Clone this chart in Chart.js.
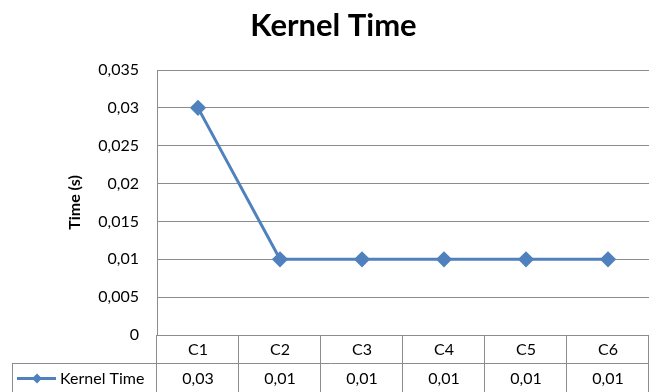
<!DOCTYPE html>
<html>
<head>
<meta charset="utf-8">
<script src="https://cdn.jsdelivr.net/npm/chart.js@4"></script>
<style>
  html, body { margin: 0; padding: 0; background: #fff; overflow: hidden; }
  #wrap { position: relative; width: 650px; height: 392px; }
</style>
</head>
<body>
<div id="wrap"><canvas id="grafico"></canvas></div>
<script>
// datos del gráfico
const categorias = ['C1', 'C2', 'C3', 'C4', 'C5', 'C6'];
const kernelTime = [0.03, 0.01, 0.01, 0.01, 0.01, 0.01];
const nombreSerie = 'Kernel Time';
const tituloEjeY = 'Time (s)';

const azul = '#4F81BD';
const gris = '#8c8c8c';
const fuente = 'Lato, "Open Sans", sans-serif';

const coma = v => String(+v.toFixed(4)).replace('.', ',');

// tabla de datos debajo del área del gráfico (estilo Excel)
const tablaDatos = {
  id: 'tablaDatos',
  afterDraw(chart) {
    const ctx = chart.ctx;
    const x = chart.scales.x;
    const area = chart.chartArea;
    const ancho = (area.right - area.left) / categorias.length;
    const y0 = area.bottom;
    const y1 = y0 + 28;
    const y2 = chart.height + 2;
    const izq = 12;

    ctx.save();
    ctx.strokeStyle = gris;
    ctx.lineWidth = 1;
    ctx.beginPath();
    // línea entre filas
    ctx.moveTo(izq, y1 + 0.5);
    ctx.lineTo(area.right, y1 + 0.5);
    // borde izquierdo de la celda de leyenda
    ctx.moveTo(izq + 0.5, y1);
    ctx.lineTo(izq + 0.5, y2);
    // separadores de columnas
    for (let i = 0; i <= categorias.length; i++) {
      const px = Math.round(area.left + i * ancho) - 0.5;
      ctx.moveTo(px, y0);
      ctx.lineTo(px, y2);
    }
    ctx.stroke();

    ctx.fillStyle = '#000';
    ctx.font = '16px ' + fuente;
    ctx.textAlign = 'center';
    ctx.textBaseline = 'middle';
    categorias.forEach((c, i) => {
      const cx = x.getPixelForValue(i);
      ctx.fillText(c, cx, (y0 + y1) / 2 + 1);
      ctx.fillText(coma(kernelTime[i]), cx, (y1 + y2) / 2);
    });

    // clave de la leyenda
    const ly = (y1 + y2) / 2;
    ctx.strokeStyle = azul;
    ctx.lineWidth = 3;
    ctx.beginPath();
    ctx.moveTo(17, ly);
    ctx.lineTo(56, ly);
    ctx.stroke();
    ctx.fillStyle = azul;
    ctx.beginPath();
    ctx.moveTo(37, ly - 5);
    ctx.lineTo(42, ly);
    ctx.lineTo(37, ly + 5);
    ctx.lineTo(32, ly);
    ctx.closePath();
    ctx.fill();
    ctx.fillStyle = '#000';
    ctx.textAlign = 'left';
    ctx.fillText(nombreSerie, 60, ly);
    ctx.restore();
  }
};

new Chart(document.getElementById('grafico'), {
  type: 'line',
  data: {
    labels: categorias,
    datasets: [{
      label: nombreSerie,
      data: kernelTime,
      borderColor: azul,
      backgroundColor: azul,
      borderWidth: 3,
      pointStyle: 'rectRot',
      pointRadius: 6,
      pointHoverRadius: 6,
      tension: 0
    }]
  },
  options: {
    responsive: true,
    maintainAspectRatio: false,
    animation: false,
    layout: { autoPadding: false, padding: { left: 18, right: 1, top: 0, bottom: 57 } },
    plugins: {
      legend: { display: false },
      tooltip: { enabled: false },
      title: {
        display: true,
        text: 'Kernel Time',
        color: '#000',
        font: { family: fuente, size: 31, weight: 'bold' },
        padding: { top: 7, bottom: 25.8 }
      }
    },
    scales: {
      x: {
        display: false,
        offset: true
      },
      y: {
        min: 0,
        max: 0.035,
        afterFit: s => { s.width = 139; },
        border: { display: true, color: gris },
        grid: { color: gris, drawTicks: false },
        ticks: {
          stepSize: 0.005,
          padding: 18,
          color: '#000',
          font: { family: fuente, size: 16 },
          callback: v => coma(v)
        },
        title: {
          display: true,
          text: tituloEjeY,
          color: '#000',
          font: { family: fuente, size: 16, weight: 'bold' },
          padding: { top: 47, bottom: 0 }
        }
      }
    }
  },
  plugins: [tablaDatos]
});
</script>
</body>
</html>
